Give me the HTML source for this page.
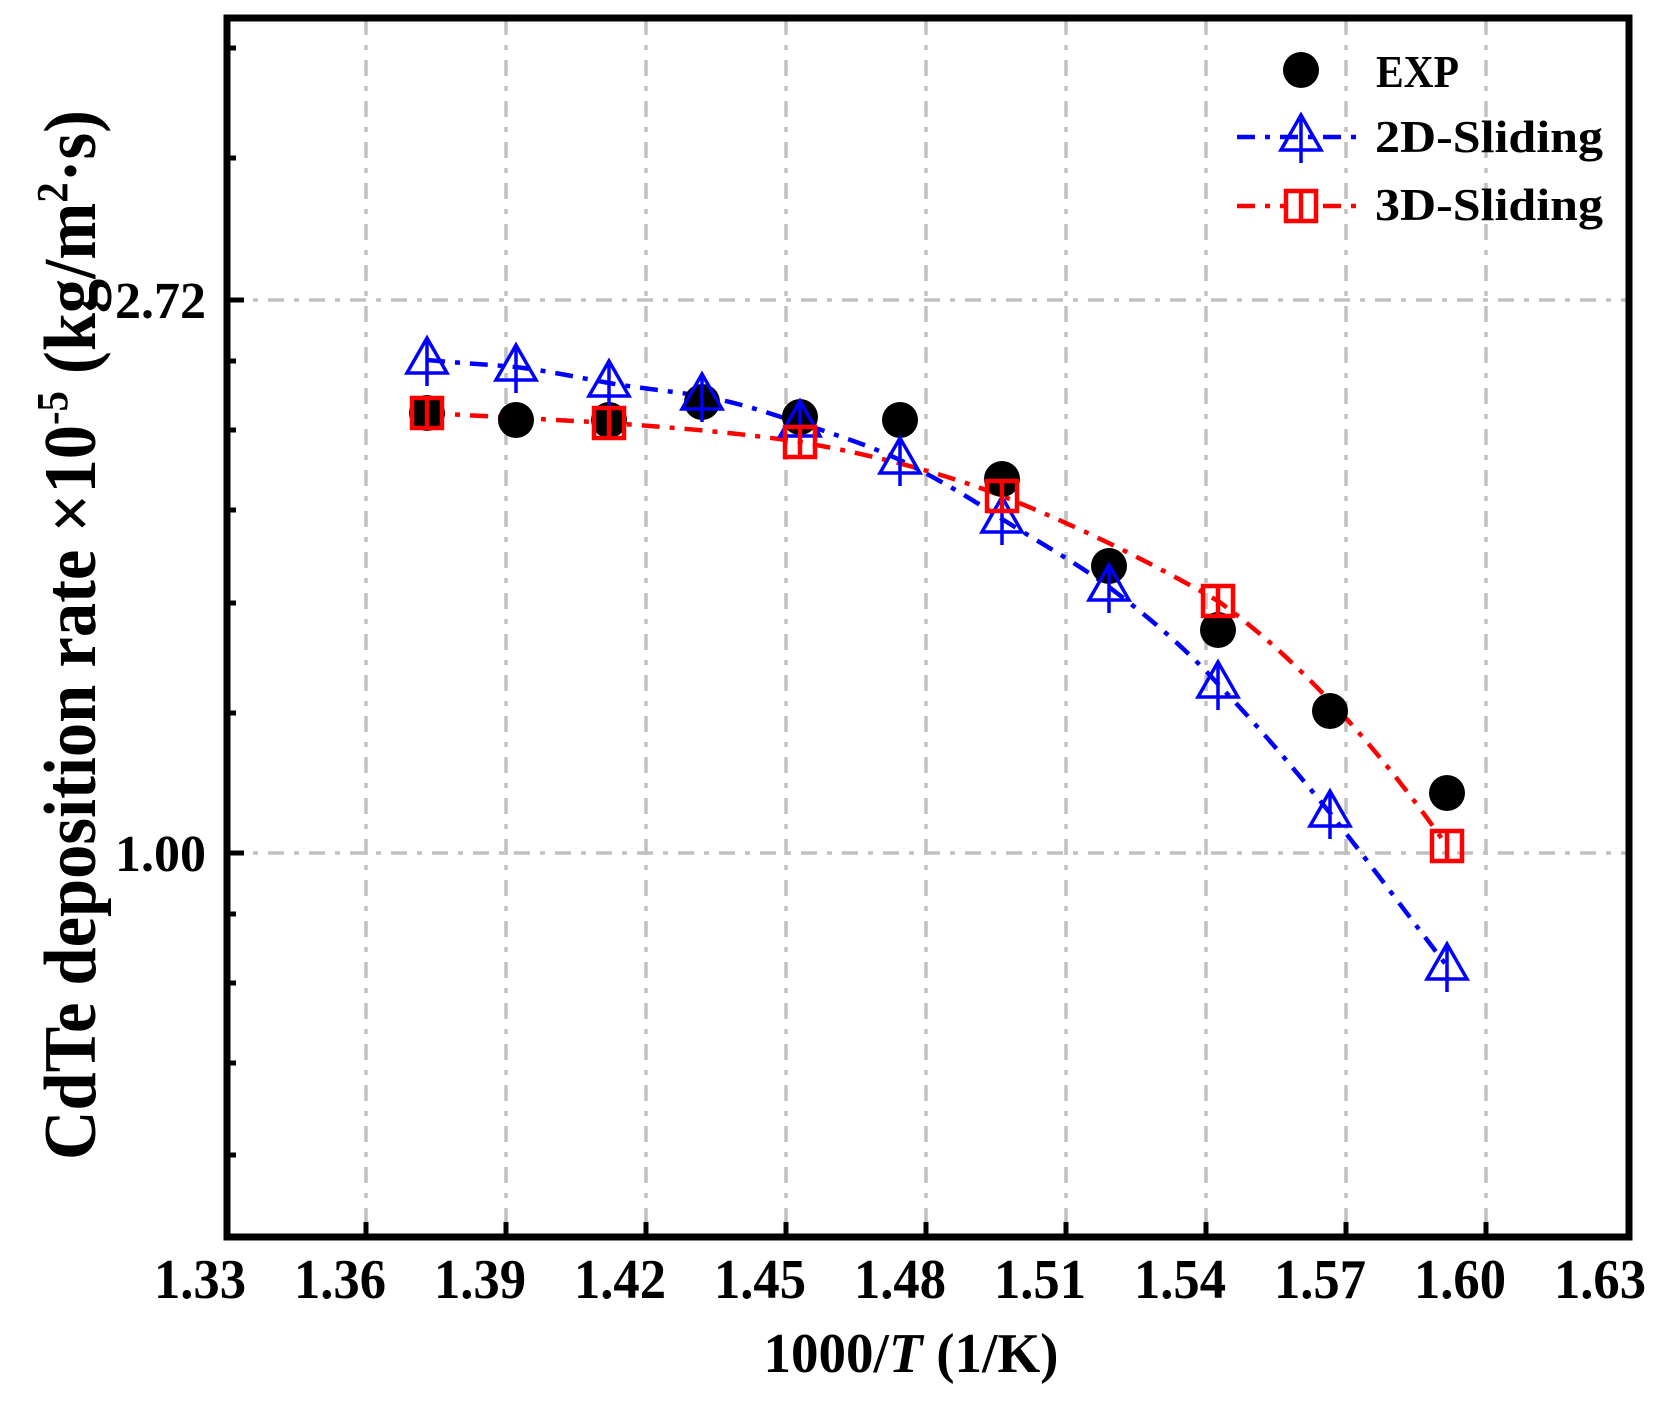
<!DOCTYPE html>
<html><head><meta charset="utf-8"><style>html,body{margin:0;padding:0;background:#fff}svg{display:block}</style></head>
<body>
<svg width="1667" height="1401" viewBox="0 0 1667 1401" xmlns="http://www.w3.org/2000/svg" font-family="'Liberation Serif', serif" font-weight="bold">
<rect width="1667" height="1401" fill="#fff"/>
<g stroke="#c0c0c0" stroke-width="3.5" stroke-dasharray="16 10 5 10" fill="none">
<line x1="366" y1="19" x2="366" y2="1237"/>
<line x1="506" y1="19" x2="506" y2="1237"/>
<line x1="646" y1="19" x2="646" y2="1237"/>
<line x1="786" y1="19" x2="786" y2="1237"/>
<line x1="926" y1="19" x2="926" y2="1237"/>
<line x1="1066" y1="19" x2="1066" y2="1237"/>
<line x1="1206" y1="19" x2="1206" y2="1237"/>
<line x1="1346" y1="19" x2="1346" y2="1237"/>
<line x1="1486" y1="19" x2="1486" y2="1237"/>
<line x1="227" y1="300" x2="1629" y2="300"/>
<line x1="227" y1="853" x2="1629" y2="853"/>
</g>
<rect x="227" y="18" width="1402" height="1219" fill="none" stroke="#000" stroke-width="7"/>
<g stroke="#000" stroke-width="5">
<line x1="366" y1="1237" x2="366" y2="1222"/><line x1="506" y1="1237" x2="506" y2="1222"/>
<line x1="646" y1="1237" x2="646" y2="1222"/><line x1="786" y1="1237" x2="786" y2="1222"/>
<line x1="926" y1="1237" x2="926" y2="1222"/><line x1="1066" y1="1237" x2="1066" y2="1222"/>
<line x1="1206" y1="1237" x2="1206" y2="1222"/><line x1="1346" y1="1237" x2="1346" y2="1222"/>
<line x1="1486" y1="1237" x2="1486" y2="1222"/>
<line x1="227" y1="300" x2="244" y2="300"/><line x1="227" y1="853" x2="244" y2="853"/>
<line x1="227" y1="48" x2="236" y2="48"/><line x1="227" y1="158" x2="236" y2="158"/>
<line x1="227" y1="361" x2="236" y2="361"/><line x1="227" y1="430" x2="236" y2="430"/>
<line x1="227" y1="510" x2="236" y2="510"/><line x1="227" y1="603" x2="236" y2="603"/>
<line x1="227" y1="713" x2="236" y2="713"/><line x1="227" y1="914" x2="236" y2="914"/>
<line x1="227" y1="983" x2="236" y2="983"/><line x1="227" y1="1063" x2="236" y2="1063"/>
<line x1="227" y1="1155" x2="236" y2="1155"/>
</g>
<g font-size="56" text-anchor="middle" fill="#000" lengthAdjust="spacingAndGlyphs">
<text x="200" y="1298" textLength="92" lengthAdjust="spacingAndGlyphs">1.33</text><text x="340" y="1298" textLength="92" lengthAdjust="spacingAndGlyphs">1.36</text><text x="480" y="1298" textLength="92" lengthAdjust="spacingAndGlyphs">1.39</text>
<text x="620" y="1298" textLength="92" lengthAdjust="spacingAndGlyphs">1.42</text><text x="760" y="1298" textLength="92" lengthAdjust="spacingAndGlyphs">1.45</text><text x="900" y="1298" textLength="92" lengthAdjust="spacingAndGlyphs">1.48</text>
<text x="1040" y="1298" textLength="92" lengthAdjust="spacingAndGlyphs">1.51</text><text x="1180" y="1298" textLength="92" lengthAdjust="spacingAndGlyphs">1.54</text><text x="1320" y="1298" textLength="92" lengthAdjust="spacingAndGlyphs">1.57</text>
<text x="1460" y="1298" textLength="92" lengthAdjust="spacingAndGlyphs">1.60</text><text x="1600" y="1298" textLength="92" lengthAdjust="spacingAndGlyphs">1.63</text>
</g>
<g font-size="52" text-anchor="end">
<text x="206" y="318">2.72</text><text x="206" y="871">1.00</text>
</g>
<text x="911" y="1372" font-size="56" text-anchor="middle" textLength="295" lengthAdjust="spacingAndGlyphs">1000/<tspan font-style="italic">T</tspan> (1/K)</text>
<text transform="translate(95,1160) rotate(-90)" font-size="74" textLength="1050" lengthAdjust="spacingAndGlyphs">CdTe deposition rate ×10<tspan dy="-28" font-size="44">-5</tspan><tspan dy="28">  (kg/m</tspan><tspan dy="-28" font-size="44">2</tspan><tspan dy="28">·s)</tspan></text>

<path d="M427,360 C460,363 480,364 516,367 C555,372 575,377 609,383 C645,389 670,391 702,396 C740,403 765,412 800,423 C840,436 870,446 900,460 C940,480 970,498 1002,519 C1040,543 1075,562 1109,587 C1150,618 1185,648 1218,684 C1260,728 1295,770 1330,813 C1375,870 1410,918 1447,966" fill="none" stroke="#0000ff" stroke-width="4.5" stroke-dasharray="18 10 5 10"/>
<path d="M427,413 C500,417 560,420 609,423 C680,428 740,433 800,442 C880,456 945,474 1002,496 C1080,527 1150,562 1218,601 C1300,660 1380,750 1447,846" fill="none" stroke="#ff0000" stroke-width="4.5" stroke-dasharray="18 10 5 10"/>

<g fill="#000">
<circle cx="427" cy="413" r="18"/><circle cx="516" cy="420" r="18"/><circle cx="609" cy="420" r="18"/>
<circle cx="702" cy="402" r="18"/><circle cx="800" cy="417" r="18"/><circle cx="900" cy="420" r="18"/>
<circle cx="1002" cy="479" r="18"/><circle cx="1109" cy="566" r="18"/><circle cx="1218" cy="630" r="18"/>
<circle cx="1330" cy="711" r="18"/><circle cx="1447" cy="793" r="18"/>
</g>
<defs>
<g id="tri"><path d="M0,-22 L-20,13 L20,13 Z M0,-22 L0,26" fill="none" stroke="#0000ff" stroke-width="3.5"/></g>
<g id="sq"><path d="M-15,-15 H15 V15 H-15 Z M0,-15 V15" fill="none" stroke="#ff0000" stroke-width="4.5"/></g>
</defs>
<use href="#tri" x="427" y="360"/><use href="#tri" x="516" y="367"/><use href="#tri" x="609" y="383"/>
<use href="#tri" x="702" y="396"/><use href="#tri" x="800" y="423"/><use href="#tri" x="900" y="460"/>
<use href="#tri" x="1002" y="519"/><use href="#tri" x="1109" y="587"/><use href="#tri" x="1218" y="684"/>
<use href="#tri" x="1330" y="813"/><use href="#tri" x="1447" y="966"/>
<use href="#sq" x="427" y="413"/><use href="#sq" x="609" y="423"/><use href="#sq" x="800" y="442"/>
<use href="#sq" x="1002" y="496"/><use href="#sq" x="1218" y="601"/><use href="#sq" x="1447" y="846"/>

<circle cx="1301" cy="70" r="18" fill="#000"/>
<line x1="1237" y1="137" x2="1362" y2="137" stroke="#0000ff" stroke-width="4.5" stroke-dasharray="18 10 5 10"/>
<use href="#tri" x="1301" y="137"/>
<line x1="1237" y1="206" x2="1362" y2="206" stroke="#ff0000" stroke-width="4.5" stroke-dasharray="18 10 5 10"/>
<rect x="1286" y="191" width="30" height="30" fill="#fff"/>
<use href="#sq" x="1301" y="206"/>
<g font-size="46">
<text x="1376" y="87" textLength="83" lengthAdjust="spacingAndGlyphs">EXP</text>
<text x="1375" y="152" textLength="228" lengthAdjust="spacingAndGlyphs">2D-Sliding</text>
<text x="1375" y="220" textLength="228" lengthAdjust="spacingAndGlyphs">3D-Sliding</text>
</g>
</svg>
</body></html>
